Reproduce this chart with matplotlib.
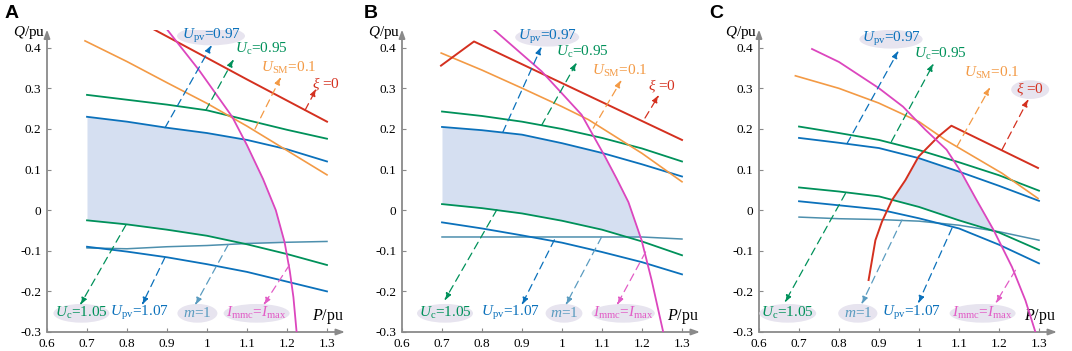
import numpy as np
import matplotlib
matplotlib.use('Agg')
import matplotlib.pyplot as plt
from matplotlib.patches import Ellipse

plt.rcParams['font.family'] = ['Liberation Serif', 'DejaVu Serif']
plt.rcParams['mathtext.fontset'] = 'custom'
plt.rcParams['mathtext.rm'] = 'Liberation Serif'
plt.rcParams['mathtext.it'] = 'Liberation Serif:italic'
plt.rcParams['mathtext.bf'] = 'Liberation Serif:bold'

# common P grid for the voltage / modulation curves
P_grid = [0.7, 0.8, 0.9, 1.0, 1.1, 1.2, 1.3]

# ---- panel A ----
A_red_P = [0.86, 1.0, 1.1, 1.2, 1.3]
A_red_Q = [0.449, 0.375, 0.322, 0.270, 0.218]
A_sm_P = [0.695, 0.8, 0.9, 1.0, 1.1, 1.2, 1.3]
A_sm_Q = [0.417, 0.366, 0.314, 0.263, 0.207, 0.147, 0.087]
A_mag_P = [0.897, 0.98, 1.063, 1.1, 1.14, 1.172, 1.194, 1.207, 1.216, 1.224]
A_mag_Q = [0.449, 0.345, 0.23, 0.16, 0.077, 0.0, -0.079, -0.15, -0.214, -0.3]
A_uc_hi = [0.284, 0.272, 0.26, 0.246, 0.222, 0.198, 0.176]
A_upv_hi = [0.23, 0.218, 0.203, 0.19, 0.173, 0.15, 0.12]
A_uc_lo = [-0.025, -0.035, -0.048, -0.063, -0.084, -0.108, -0.135]
A_upv_lo = [-0.09, -0.102, -0.116, -0.133, -0.152, -0.176, -0.2]
A_m1 = [-0.093, -0.095, -0.09, -0.087, -0.082, -0.079, -0.077]

# ---- panel B ----
B_red_P = [0.6975, 0.78, 1.3]
B_red_Q = [0.356, 0.4155, 0.173]
B_sm_P = [0.698, 0.8, 0.899, 1.0, 1.066, 1.2, 1.3]
B_sm_Q = [0.387, 0.345, 0.301, 0.255, 0.223, 0.14, 0.07]
B_mag_P = [0.828, 0.949, 1.049, 1.1075, 1.137, 1.166, 1.199, 1.224, 1.253]
B_mag_Q = [0.446, 0.342, 0.235, 0.132, 0.077, 0.02, -0.074, -0.172, -0.3]
B_uc_hi = [0.243, 0.232, 0.218, 0.2, 0.178, 0.152, 0.12]
B_upv_hi = [0.205, 0.197, 0.186, 0.165, 0.141, 0.113, 0.083]
B_uc_lo = [0.015, 0.005, -0.008, -0.026, -0.048, -0.077, -0.111]
B_upv_lo = [-0.03, -0.045, -0.062, -0.08, -0.103, -0.128, -0.158]
B_m1 = [-0.066, -0.066, -0.066, -0.066, -0.066, -0.066, -0.071]

# ---- panel C ----
C_red_P = [0.874, 0.891, 0.9075, 0.9325, 0.966, 0.999, 1.049, 1.081, 1.2975]
C_red_Q = [-0.172, -0.074, -0.028, 0.025, 0.074, 0.132, 0.182, 0.208, 0.104]
C_sm_P = [0.691, 0.8, 0.899, 1.0, 1.066, 1.2075, 1.2975]
C_sm_Q = [0.331, 0.3, 0.264, 0.218, 0.173, 0.091, 0.029]
C_mag_P = [0.7325, 0.8, 0.899, 0.96, 1.016, 1.069, 1.107, 1.144, 1.186, 1.2325, 1.266, 1.291]
C_mag_Q = [0.397, 0.365, 0.301, 0.255, 0.198, 0.149, 0.091, 0.025, -0.048, -0.14, -0.222, -0.3]
C_uc_hi = [0.206, 0.19, 0.173, 0.148, 0.118, 0.086, 0.048]
C_upv_hi = [0.178, 0.166, 0.153, 0.128, 0.095, 0.06, 0.023]
C_uc_lo = [0.056, 0.046, 0.034, 0.008, -0.025, -0.055, -0.098]
C_upv_lo = [0.022, 0.012, 0.002, -0.02, -0.045, -0.085, -0.131]
C_m1 = [-0.017, -0.021, -0.023, -0.027, -0.037, -0.053, -0.074]

x_ticks = [0.6, 0.7, 0.8, 0.9, 1.0, 1.1, 1.2, 1.3]
x_ticklabels = ['0.6', '0.7', '0.8', '0.9', '1', '1.1', '1.2', '1.3']
y_ticks = [-0.3, -0.2, -0.1, 0, 0.1, 0.2, 0.3, 0.4]
y_ticklabels = ['-0.3', '-0.2', '-0.1', '0', '0.1', '0.2', '0.3', '0.4']

RED = '#d4301f'
ORANGE = '#f39a45'
GREEN = '#00915a'
BLUE = '#0b71bb'
M1 = '#4d8fad'
MAG = '#dc46be'
FILL = '#d5dff1'
ELL = '#e7e4ef'

LBL = {
    'upv_hi': (r'$U_{\mathrm{pv}}$=0.97', BLUE),
    'uc_hi': (r'$U_{\mathrm{c}}$=0.95', GREEN),
    'sm': (r'$U_{\mathrm{SM}}$=0.1', ORANGE),
    'xi': (r'$\xi$ =0', RED),
    'uc_lo': (r'$U_{\mathrm{c}}$=1.05', GREEN),
    'upv_lo': (r'$U_{\mathrm{pv}}$=1.07', BLUE),
    'm1': (r'$m$=1', '#5b9cc0'),
    'mag': (r'$I_{\mathrm{mmc}}$=$I_{\mathrm{max}}$', '#e25cc6'),
}

# label layout per panel: key -> (text centre, arrow start, arrow end, ellipse width or 0)
layout_A = {
    'upv_hi': ((1.01, 0.429), (0.895, 0.203), (1.012, 0.407), 0.17),
    'uc_hi': ((1.137, 0.397), (0.997, 0.246), (1.067, 0.372), 0),
    'sm': ((1.205, 0.35), (1.12, 0.20), (1.185, 0.328), 0),
    'xi': ((1.297, 0.309), (1.245, 0.246), (1.274, 0.30), 0),
    'uc_lo': ((0.686, -0.254), (0.7975, -0.036), (0.6825, -0.234), 0.14),
    'upv_lo': ((0.83, -0.254), (0.895, -0.116), (0.837, -0.234), 0),
    'm1': ((0.976, -0.254), (1.053, -0.085), (0.97, -0.234), 0.1),
    'mag': ((1.124, -0.254), (1.206, -0.135), (1.141, -0.234), 0.165),
}
layout_B = {
    'upv_hi': ((0.963, 0.426), (0.852, 0.192), (0.949, 0.403), 0.16),
    'uc_hi': ((1.051, 0.389), (0.949, 0.209), (1.037, 0.364), 0),
    'sm': ((1.145, 0.342), (1.078, 0.202), (1.149, 0.321), 0),
    'xi': ((1.251, 0.305), (1.2075, 0.227), (1.2425, 0.284), 0),
    'uc_lo': ((0.7075, -0.254), (0.837, 0.001), (0.706, -0.223), 0.14),
    'upv_lo': ((0.872, -0.254), (0.981, -0.073), (0.899, -0.234), 0),
    'm1': ((1.005, -0.254), (1.099, -0.066), (1.009, -0.234), 0.092),
    'mag': ((1.153, -0.254), (1.209, -0.103), (1.137, -0.234), 0.158),
}
layout_C = {
    'upv_hi': ((0.93, 0.421), (0.82, 0.164), (0.949, 0.393), 0.158),
    'uc_hi': ((1.053, 0.385), (0.931, 0.169), (1.037, 0.362), 0),
    'sm': ((1.1825, 0.339), (1.095, 0.157), (1.178, 0.303), 0),
    'xi': ((1.278, 0.297), (1.2075, 0.149), (1.274, 0.274), 0.095),
    'uc_lo': ((0.672, -0.254), (0.816, 0.041), (0.664, -0.228), 0.142),
    'm1': ((0.847, -0.254), (0.9575, -0.024), (0.856, -0.232), 0.098),
    'upv_lo': ((0.98, -0.254), (1.0825, -0.044), (0.9975, -0.23), 0),
    'mag': ((1.159, -0.254), (1.241, -0.148), (1.191, -0.23), 0.165),
}


def draw_panel(ax, red_P, red_Q, sm_P, sm_Q, mag_P, mag_Q, uc_hi, upv_hi,
               uc_lo, upv_lo, m1, layout, red_bounds=False):
    ax.set_xlim(0.6, 1.345)
    ax.set_ylim(-0.3, 0.445)
    for s in ax.spines.values():
        s.set_visible(False)

    # feasible region
    x = np.linspace(0.7, 1.3, 1201)
    up = np.minimum(np.interp(x, P_grid, upv_hi),
                    np.interp(x, mag_P, mag_Q, left=1.0, right=-1.0))
    if red_bounds:
        up = np.minimum(up, np.interp(x, red_P, red_Q, left=-1.0, right=1.0))
    lo = np.maximum(np.interp(x, P_grid, uc_lo), np.interp(x, P_grid, m1))
    ax.fill_between(x, lo, up, where=up > lo, interpolate=True,
                    color=FILL, lw=0, zorder=1)

    ax.plot(P_grid, m1, color=M1, lw=1.1, zorder=3)
    ax.plot(P_grid, upv_lo, color=BLUE, lw=1.3, zorder=3)
    ax.plot(P_grid, uc_lo, color=GREEN, lw=1.3, zorder=3)
    ax.plot(P_grid, upv_hi, color=BLUE, lw=1.3, zorder=3)
    ax.plot(P_grid, uc_hi, color=GREEN, lw=1.3, zorder=3)
    ax.plot(sm_P, sm_Q, color=ORANGE, lw=1.2, zorder=3)
    ax.plot(red_P, red_Q, color=RED, lw=1.4, zorder=4)
    ax.plot(mag_P, mag_Q, color=MAG, lw=1.3, zorder=4)

    # axes with arrows
    ax.annotate('', xy=(0.6, 0.445), xytext=(0.6, -0.3),
                arrowprops=dict(arrowstyle='-|>,head_length=0.5,head_width=0.18',
                                color='#8a8a8a', lw=1.3, shrinkA=0, shrinkB=0),
                annotation_clip=False)
    ax.annotate('', xy=(1.345, -0.3), xytext=(0.6, -0.3),
                arrowprops=dict(arrowstyle='-|>,head_length=0.5,head_width=0.18',
                                color='#8a8a8a', lw=1.3, shrinkA=0, shrinkB=0),
                annotation_clip=False)
    ax.set_xticks(x_ticks)
    ax.set_xticklabels(x_ticklabels)
    ax.set_yticks(y_ticks)
    ax.set_yticklabels(y_ticklabels)
    ax.tick_params(direction='in', length=3, width=0.8, color='#8a8a8a',
                   labelsize=9.5, pad=4)
    ax.text(0.596, 0.437, '$Q$/pu', ha='right', va='center', fontsize=11)
    ax.text(1.302, -0.262, '$P$/pu', ha='center', va='center', fontsize=11.5)

    for key, (pos, start, end, ew) in layout.items():
        txt, col = LBL[key]
        if ew:
            ax.add_patch(Ellipse(pos, ew, 0.046, color=ELL, lw=0, zorder=5))
        ax.text(pos[0], pos[1], txt, color=col, ha='center', va='center',
                fontsize=11, zorder=6)
        ax.annotate('', xy=end, xytext=start, zorder=5,
                    arrowprops=dict(arrowstyle='-|>,head_length=0.45,head_width=0.16',
                                    color=col, lw=0.9, linestyle=(0, (6, 4)),
                                    shrinkA=0, shrinkB=0))


fig = plt.figure(figsize=(10.72, 3.51), dpi=100)
w = 298 / 1072
b = 19 / 351
h = 302.5 / 351
axA = fig.add_axes([47 / 1072, b, w, h])
axB = fig.add_axes([402 / 1072, b, w, h])
axC = fig.add_axes([759 / 1072, b, w, h])

draw_panel(axA, A_red_P, A_red_Q, A_sm_P, A_sm_Q, A_mag_P, A_mag_Q,
           A_uc_hi, A_upv_hi, A_uc_lo, A_upv_lo, A_m1, layout_A)
draw_panel(axB, B_red_P, B_red_Q, B_sm_P, B_sm_Q, B_mag_P, B_mag_Q,
           B_uc_hi, B_upv_hi, B_uc_lo, B_upv_lo, B_m1, layout_B)
draw_panel(axC, C_red_P, C_red_Q, C_sm_P, C_sm_Q, C_mag_P, C_mag_Q,
           C_uc_hi, C_upv_hi, C_uc_lo, C_upv_lo, C_m1, layout_C, red_bounds=True)

for xpos, letter in [(0.004, 'A'), (0.339, 'B'), (0.662, 'C')]:
    fig.text(xpos, 0.985, letter, fontfamily='Liberation Sans', fontweight='bold',
             fontsize=14, va='top', ha='left')

fig.savefig('out.png', dpi=100)
